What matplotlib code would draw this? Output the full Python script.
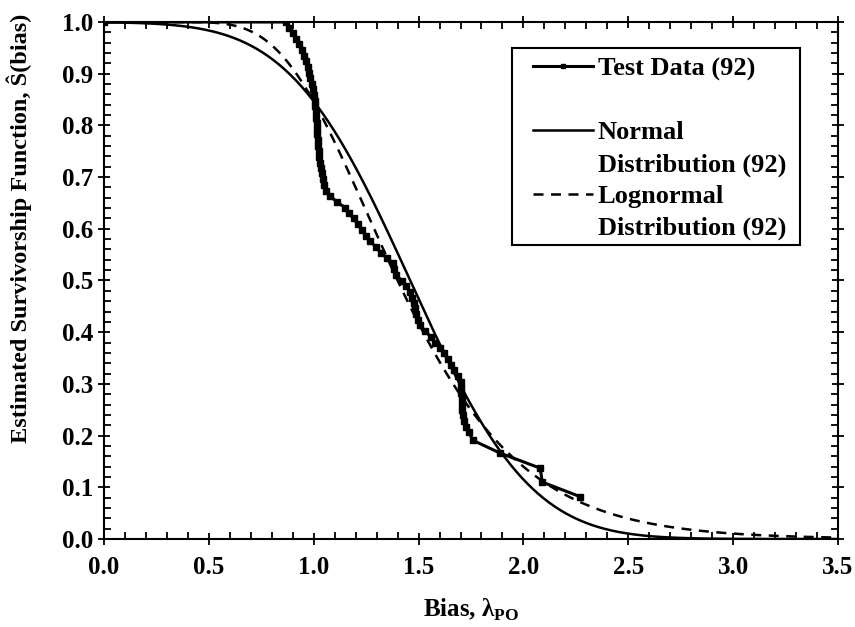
import math

import matplotlib
matplotlib.use("Agg")
import matplotlib.pyplot as plt
import numpy as np
from matplotlib.lines import Line2D
from matplotlib.patches import Rectangle
from matplotlib.ticker import MultipleLocator

plt.rcParams['font.family'] = ['Liberation Serif', 'DejaVu Serif']
plt.rcParams['font.weight'] = 'bold'
plt.rcParams['mathtext.fontset'] = 'custom'
plt.rcParams['mathtext.rm'] = 'Liberation Serif'
plt.rcParams['mathtext.bf'] = 'Liberation Serif:bold'

# test data (92 points)
bias = [0.0, 0.870, 0.880, 0.900, 0.915, 0.930, 0.945, 0.955, 0.965, 0.972,
        0.978, 0.984, 0.990, 0.995, 1.000, 1.005, 1.008, 1.010, 1.012, 1.014,
        1.016, 1.018, 1.020, 1.022, 1.024, 1.027, 1.030, 1.033, 1.038, 1.043,
        1.050, 1.060, 1.080, 1.110, 1.150, 1.170, 1.190, 1.210, 1.230, 1.250,
        1.270, 1.295, 1.320, 1.350, 1.380, 1.385, 1.390, 1.420, 1.440, 1.460,
        1.470, 1.480, 1.485, 1.490, 1.495, 1.505, 1.530, 1.560, 1.580, 1.600,
        1.620, 1.640, 1.655, 1.670, 1.690, 1.700, 1.700, 1.703, 1.705, 1.705,
        1.708, 1.710, 1.718, 1.725, 1.740, 1.758, 1.890, 2.080, 2.090, 2.270]
surv = [1.000, 1.000, 0.989, 0.978, 0.967, 0.957, 0.946, 0.935, 0.924, 0.913,
        0.902, 0.891, 0.880, 0.870, 0.859, 0.848, 0.837, 0.826, 0.815, 0.804,
        0.793, 0.783, 0.772, 0.761, 0.750, 0.739, 0.728, 0.717, 0.707, 0.696,
        0.685, 0.674, 0.663, 0.652, 0.641, 0.630, 0.620, 0.609, 0.598, 0.587,
        0.576, 0.565, 0.554, 0.543, 0.533, 0.522, 0.511, 0.500, 0.489, 0.478,
        0.467, 0.457, 0.446, 0.435, 0.424, 0.413, 0.402, 0.391, 0.380, 0.370,
        0.359, 0.348, 0.337, 0.326, 0.315, 0.304, 0.293, 0.283, 0.272, 0.261,
        0.250, 0.239, 0.228, 0.217, 0.207, 0.191, 0.166, 0.137, 0.110, 0.082]

# fitted distributions
norm_mu, norm_sigma = 1.46, 0.45
logn_mu, logn_sigma = math.log(1.40), 0.33

x_fit = np.linspace(0.001, 3.5, 400)
erf = np.vectorize(math.erf)
s_norm = 0.5 * (1 - erf((x_fit - norm_mu) / (norm_sigma * math.sqrt(2))))
s_logn = 0.5 * (1 - erf((np.log(x_fit) - logn_mu) / (logn_sigma * math.sqrt(2))))

W, H = 855, 627
fig = plt.figure(figsize=(W / 100, H / 100), dpi=100)
ax = fig.add_axes([104 / W, 1 - 539 / H, 734 / W, 517 / H])

ax.plot(bias, surv, color='black', lw=2.2, marker='s', ms=4.5)
ax.plot(x_fit, s_norm, color='black', lw=1.8)
ax.plot(x_fit, s_logn, color='black', lw=1.8, dashes=(4, 3))

ax.set_xlim(0, 3.5)
ax.set_ylim(0, 1.0)
ax.xaxis.set_major_locator(MultipleLocator(0.5))
ax.xaxis.set_minor_locator(MultipleLocator(0.1))
ax.yaxis.set_major_locator(MultipleLocator(0.1))
ax.yaxis.set_minor_locator(MultipleLocator(0.02))
ax.xaxis.set_major_formatter(plt.FormatStrFormatter('%.1f'))
ax.yaxis.set_major_formatter(plt.FormatStrFormatter('%.1f'))
ax.tick_params(which='major', direction='inout', length=9, width=1.3, labelsize=18,
               top=True, right=True)
ax.tick_params(axis='x', which='major', pad=8)
ax.tick_params(which='minor', direction='in', length=5, width=1.3, top=True, right=True)
for s in ax.spines.values():
    s.set_linewidth(1.5)

ax.set_xlabel(r'Bias, λ$_{\mathbf{PO}}$', fontsize=18, fontweight='bold')
ax.xaxis.set_label_coords(0.5, -0.112)
ax.set_ylabel('Estimated Survivorship Function, Ŝ(bias)', fontsize=17.5, fontweight='bold')
ax.yaxis.set_label_coords(-0.098, 0.60)

# legend rows: handle on the first line of each entry
blank = Line2D([], [], linestyle='none')
h_test = Line2D([], [], color='black', lw=2.2, marker='s', ms=3.5)
h_norm = Line2D([], [], color='black', lw=1.8)
h_logn = Line2D([], [], color='black', lw=1.8, dashes=(4, 3))
handles = [h_test, blank, h_norm, blank, h_logn, blank]
labels = ['Test Data (92)', ' ', 'Normal', 'Distribution (92)', 'Lognormal',
          'Distribution (92)']
leg = ax.legend(handles, labels, loc='upper left', bbox_to_anchor=(524 / W, 1 - 48 / H),
                bbox_transform=fig.transFigure, borderaxespad=0, fontsize=19,
                frameon=False, handlelength=2.25, borderpad=0.35,
                labelspacing=0.31, handletextpad=0.2)
for t in leg.get_texts():
    t.set_fontweight('bold')

# legend box
ax.add_patch(Rectangle((512 / W, 1 - 245 / H), 288 / W, 197 / H, transform=fig.transFigure,
                       facecolor='white', edgecolor='black', lw=1.5, zorder=4,
                       clip_on=False))

fig.savefig('out.png', dpi=100)
